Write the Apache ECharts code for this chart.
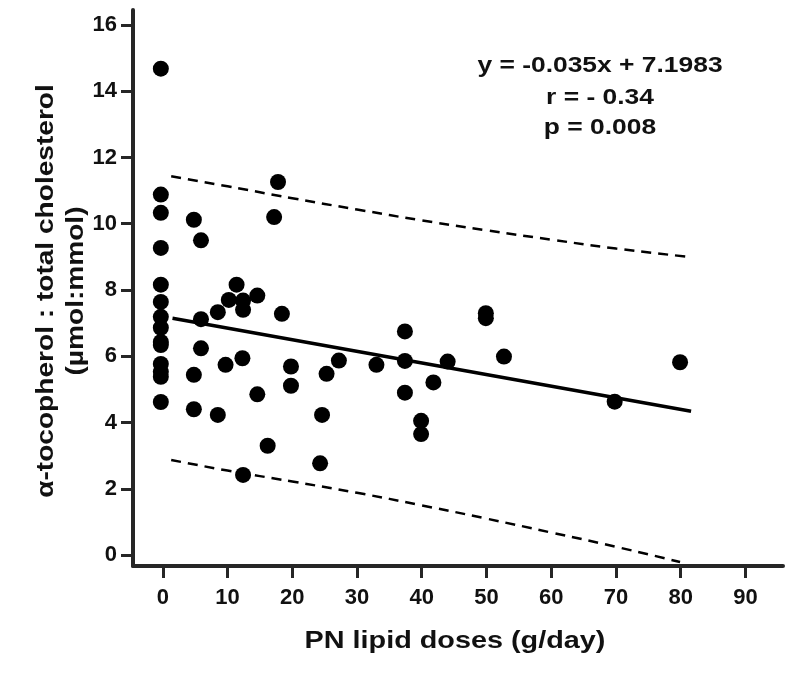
<!DOCTYPE html>
<html>
<head>
<meta charset="utf-8">
<script src="https://cdn.jsdelivr.net/npm/echarts@6/dist/echarts.min.js"></script>
<style>html,body{margin:0;padding:0;background:#fff}#c{width:800px;height:674px}</style>
</head>
<body>
<div id="c"></div>
<script>
// Data
const xTicks = [0, 10, 20, 30, 40, 50, 60, 70, 80, 90];
const yTicks = [0, 2, 4, 6, 8, 10, 12, 14, 16];
const doseX = [
  -0.3, -0.3, -0.3, -0.3, -0.3, -0.3, -0.3, -0.3, -0.3, -0.3, -0.3, -0.3, -0.3, -0.3,
  4.8, 5.9, 17.8, 17.2, 11.4, 10.2, 12.4, 12.4, 14.6, 8.5, 5.9, 18.4, 5.9, 12.3,
  9.7, 4.8, 19.8, 19.8, 25.3, 14.6, 4.8, 8.5, 24.6, 16.2, 24.3, 12.4,
  49.9, 49.9, 37.4, 27.2, 33.0, 37.4, 44.0, 52.7, 41.8, 37.4, 39.9, 39.9, 79.9, 69.8
];
const ratioY = [
  14.68, 10.88, 10.33, 9.27, 8.16, 7.64, 7.19, 6.86, 6.43, 6.34, 5.77, 5.53, 5.38, 4.62,
  10.12, 9.50, 11.26, 10.20, 8.16, 7.70, 7.68, 7.40, 7.83, 7.33, 7.12, 7.28, 6.24, 5.94,
  5.74, 5.44, 5.69, 5.11, 5.47, 4.85, 4.40, 4.23, 4.23, 3.30, 2.77, 2.42,
  7.30, 7.15, 6.75, 5.87, 5.74, 5.86, 5.84, 5.99, 5.21, 4.90, 4.05, 3.65, 5.82, 4.63
];
const fitX = [1.5, 81.6];
const fitY = [7.15, 4.34];
const bandX = [1.3, 10, 20, 30, 40, 50, 60, 70, 81.3];
const upperY = [11.43, 11.13, 10.77, 10.43, 10.10, 9.80, 9.52, 9.25, 9.00];
const lowerX = [1.3, 10, 20, 30, 40, 50, 60, 70, 79.9];
const lowerY = [2.87, 2.55, 2.22, 1.88, 1.50, 1.10, 0.68, 0.25, -0.21];
const statLines = ['y = -0.035x + 7.1983', 'r = - 0.34', 'p = 0.008'];
const xTitle = 'PN lipid doses (g/day)';
const yTitle1 = 'α-tocopherol : total cholesterol';
const yTitle2 = '(µmol:mmol)';

const FONT = '"Liberation Sans", Arial, sans-serif';
const AX = '#262626';
const zip = (a, b) => a.map((v, i) => [v, b[i]]);

function label(text, x, y, size, sx, rot) {
  return {type: 'text', x: x, y: y, rotation: rot || 0, scaleX: sx,
    style: {text: text, fill: '#111', font: 'bold ' + size + 'px ' + FONT, align: 'center', verticalAlign: 'middle'}};
}

const chart = echarts.init(document.getElementById('c'), null, {renderer: 'canvas'});
chart.setOption({
  animation: false,
  backgroundColor: '#fff',
  grid: {left: 133, top: 10, right: 17, bottom: 108, containLabel: false},
  xAxis: {
    type: 'value', min: -4.6, max: 95.8,
    splitLine: {show: false},
    axisLine: {show: true, onZero: false, lineStyle: {color: AX, width: 4}},
    axisTick: {show: true, inside: false, length: 12, customValues: xTicks, lineStyle: {color: AX, width: 3}},
    axisLabel: {customValues: xTicks, margin: 21, color: '#111', fontFamily: FONT, fontWeight: 'bold', fontSize: 22}
  },
  yAxis: {
    type: 'value', min: -0.33, max: 16.45,
    splitLine: {show: false},
    axisLine: {show: true, onZero: false, lineStyle: {color: AX, width: 4}},
    axisTick: {show: true, inside: false, length: 12, customValues: yTicks, lineStyle: {color: AX, width: 3}},
    axisLabel: {customValues: yTicks, margin: 16, color: '#111', fontFamily: FONT, fontWeight: 'bold', fontSize: 22}
  },
  graphic: [
    label(yTitle1, 46, 291, 24, 1.17, Math.PI / 2),
    label(yTitle2, 76, 291, 24, 1.17, Math.PI / 2),
    label(xTitle, 455, 641, 24, 1.2),
    label(statLines[0], 600, 66, 22, 1.2),
    label(statLines[1], 600, 98, 22, 1.2),
    label(statLines[2], 600, 128, 22, 1.2)
  ],
  series: [
    {type: 'line', data: zip(bandX, upperY), smooth: true, symbol: 'none',
     lineStyle: {color: '#000', width: 2.5, type: [10, 7]}, z: 2},
    {type: 'line', data: zip(lowerX, lowerY), smooth: true, symbol: 'none',
     lineStyle: {color: '#000', width: 2.5, type: [10, 7]}, z: 2},
    {type: 'line', data: zip(fitX, fitY), symbol: 'none',
     lineStyle: {color: '#000', width: 3.5}, z: 3},
    {type: 'scatter', data: zip(doseX, ratioY), symbol: 'circle', symbolSize: 16,
     itemStyle: {color: '#000', opacity: 1}, z: 4}
  ]
});
</script>
</body>
</html>
